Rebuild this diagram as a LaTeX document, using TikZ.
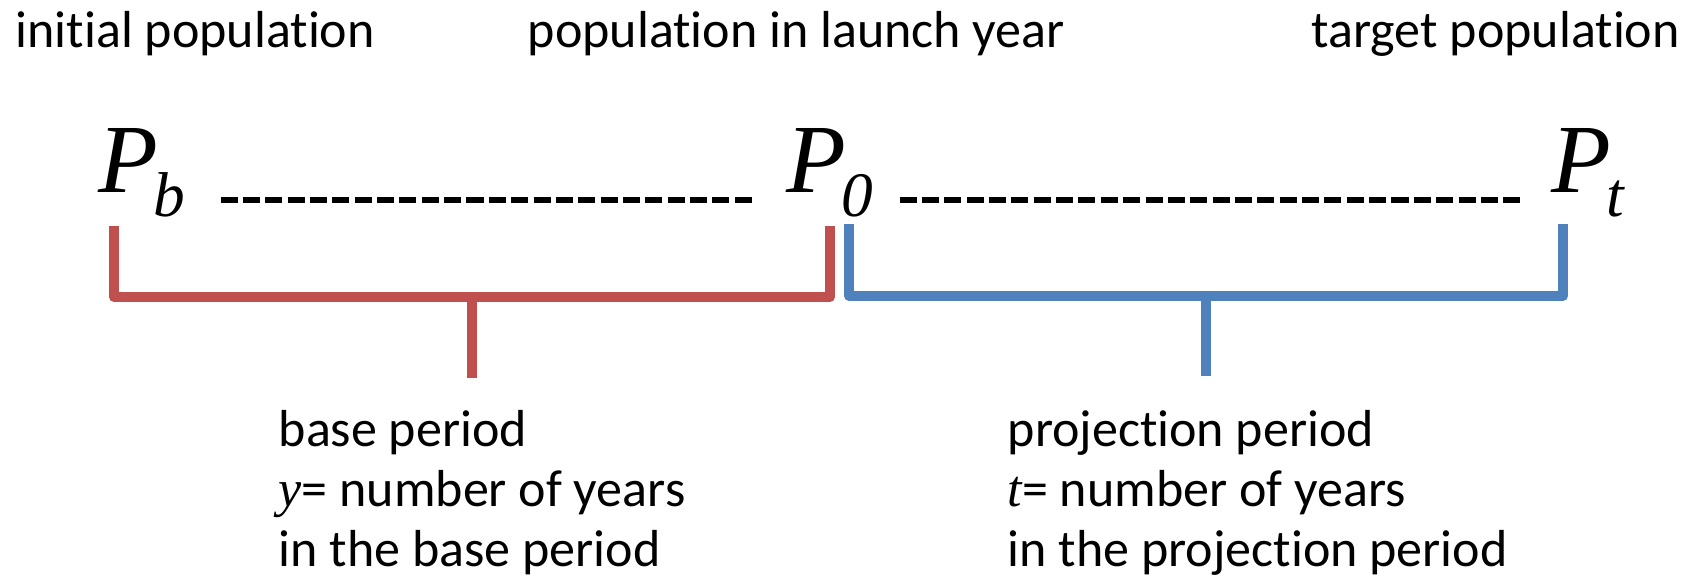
\documentclass[tikz,border=0pt]{standalone}
\usepackage{fontspec}
\setmainfont{Carlito}[Ligatures=NoCommon]
\newfontfamily\symfont{Liberation Serif}
\usetikzlibrary{calc}
\definecolor{basered}{HTML}{C0504D}
\definecolor{projblue}{HTML}{4F81BD}
\newcommand{\popsym}[1]{{\symfont\itshape\fontsize{27.8}{30}\selectfont P\kern-1.5pt\raisebox{-6.8pt}{\fontsize{18}{18}\selectfont #1}}}

\begin{document}
\begin{tikzpicture}[x=0.01cm, y=-0.01cm, every node/.style={font=\fontsize{14.8}{17.1}\selectfont, inner sep=0pt},
  bracket/.style={line width=2.85pt, line join=round},
  timeline/.style={line width=1.7pt, dash pattern=on 0.17cm off 0.0535cm}]
  \useasboundingbox (0,0) rectangle (1700,577);
  % labels above
  \node[anchor=base west] (initlbl) at (15,48) {initial population};
  \node[anchor=base west] (launchlbl) at (527,48) {population in launch year};
  \node[anchor=base west] (targetlbl) at (1311,48) {target population};
  % population symbols
  \node[anchor=base west] (Pb) at (98,193) {\popsym{b}};
  \node[anchor=base west] (P0) at (786,193) {\popsym{0}};
  \node[anchor=base west] (Pt) at (1551,193) {\popsym{t}};
  \draw[timeline] ($(Pb.base east)+(35,7)$) -- ($(P0.base west)+(-33,7)$);
  \draw[timeline] ($(P0.base east)+(26,7)$) -- ($(Pt.base west)+(-30,7)$);
  % brackets
  \coordinate (bL) at ($(Pb.base west)+(16,33)$);
  \coordinate (bR) at ($(P0.base west)+(44,33)$);
  \coordinate (pL) at ($(P0.base west)+(63,31)$);
  \coordinate (pR) at ($(Pt.base west)+(12,31)$);
  \draw[bracket, basered] (bL) -- ++(0,71) -| (bR);
  \draw[bracket, basered] ($(bL)!0.5!(bR)+(0,71)$) -- ++(0,81);
  \draw[bracket, projblue] (pL) -- ++(0,72) -| (pR);
  \draw[bracket, projblue] ($(pL)!0.5!(pR)+(0,72)$) -- ++(0,80);
  % period labels
  \node[anchor=base west, align=left] (baselbl) at (278,567) {base period\\{\symfont\itshape y}= number of years\\in the base period};
  \node[anchor=base west, align=left] (projlbl) at (1007,567) {projection period\\{\symfont\itshape t}= number of years\\in the projection period};
\end{tikzpicture}
\end{document}
